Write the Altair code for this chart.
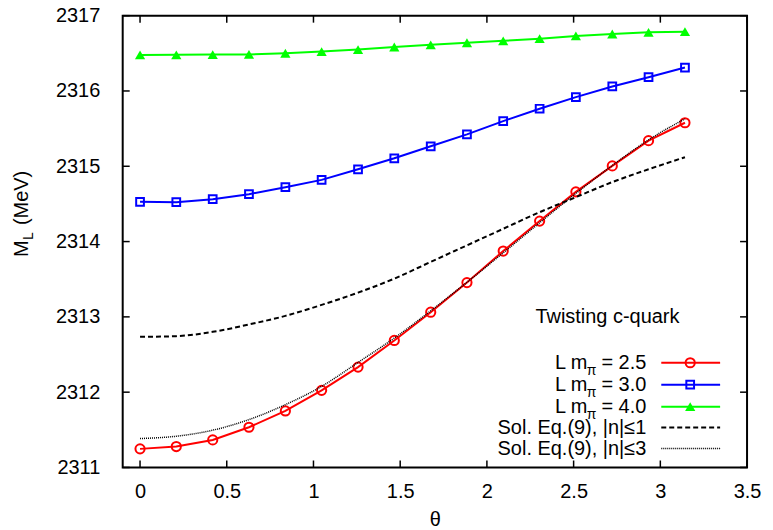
import altair as alt
import pandas as pd

# ---------------- data ----------------
theta = [0.0, 0.209, 0.419, 0.628, 0.838, 1.047, 1.257, 1.466,
         1.676, 1.885, 2.094, 2.304, 2.513, 2.723, 2.932, 3.142]

m_25 = [2311.247, 2311.278, 2311.366, 2311.534, 2311.751, 2312.024, 2312.333, 2312.687,
        2313.062, 2313.455, 2313.874, 2314.272, 2314.660, 2315.005, 2315.340, 2315.578]
m_30 = [2314.528, 2314.523, 2314.563, 2314.629, 2314.722, 2314.819, 2314.960, 2315.106,
        2315.265, 2315.424, 2315.600, 2315.764, 2315.918, 2316.060, 2316.183, 2316.311]
m_40 = [2316.479, 2316.480, 2316.483, 2316.485, 2316.501, 2316.523, 2316.550, 2316.584,
        2316.613, 2316.640, 2316.666, 2316.695, 2316.731, 2316.757, 2316.779, 2316.788]
sol_n1 = [2312.735, 2312.744, 2312.801, 2312.899, 2313.013, 2313.159, 2313.322, 2313.508,
          2313.730, 2313.950, 2314.170, 2314.390, 2314.590, 2314.790, 2314.960, 2315.120]
sol_n3 = [2311.384, 2311.415, 2311.495, 2311.636, 2311.834, 2312.077, 2312.395, 2312.718,
          2313.080, 2313.460, 2313.850, 2314.250, 2314.640, 2315.010, 2315.350, 2315.630]

x_ticks = [0, 0.5, 1, 1.5, 2, 2.5, 3, 3.5]
y_ticks = [2311, 2312, 2313, 2314, 2315, 2316, 2317]

legend_values = ["2.5", "3.0", "4.0"]
sol_labels = ["Sol. Eq.(9), |n|\u22641", "Sol. Eq.(9), |n|\u22643"]
box_title = "Twisting c-quark"

# ---------------- styling ----------------
W, H = 626, 453
FONT = "Liberation Sans"
FS = 20
RED, BLUE, GREEN = "#ff0000", "#0000ff", "#00ff00"

xs = alt.Scale(domain=[-0.1, 3.5], nice=False, zero=False)
ys = alt.Scale(domain=[2311, 2317], nice=False, zero=False)

xaxis = alt.Axis(values=x_ticks, format="~g", title="\u03b8", titleFont=FONT, titleFontSize=FS,
                 titleFontWeight="normal", titleColor="black", titlePadding=8,
                 labelFont=FONT, labelFontSize=FS, labelColor="black", labelPadding=14,
                 labelFlush=False, labelOverlap=False, ticks=False, tickSize=0,
                 domain=False, grid=False)
yaxis = alt.Axis(values=y_ticks, format="d", title=None,
                 labelFont=FONT, labelFontSize=FS, labelColor="black", labelPadding=23,
                 labelOverlap=False, ticks=False, tickSize=0, domain=False, grid=False)

X = alt.X("x:Q", scale=xs, axis=xaxis)
Y = alt.Y("y:Q", scale=ys, axis=yaxis)


def series(vals):
    return pd.DataFrame({"x": theta, "y": vals})


STYLES = [
    (RED, "circle", False, 85, 2),
    (BLUE, "square", False, 60, 2),
    (GREEN, "triangle-up", True, 105, 1),
]

layers = []

# data series with markers
for vals, (color, shape, filled, size, sw) in zip([m_25, m_30, m_40], STYLES):
    df = series(vals)
    layers.append(alt.Chart(df).mark_line(color=color, strokeWidth=2).encode(x=X, y=Y))
    layers.append(alt.Chart(df).mark_point(shape=shape, filled=filled, color=color, size=size,
                                           strokeWidth=sw, opacity=1).encode(x=X, y=Y))

# theory curves
layers.append(alt.Chart(series(sol_n1)).mark_line(color="black", strokeWidth=2, strokeDash=[5, 3],
                                                   interpolate="monotone").encode(x=X, y=Y))
layers.append(alt.Chart(series(sol_n3)).mark_line(color="black", strokeWidth=1.5, strokeDash=[1, 1],
                                                   interpolate="monotone").encode(x=X, y=Y))

# inward ticks on all four sides
tx = pd.DataFrame({"x": x_ticks})
ty = pd.DataFrame({"y": y_ticks})
TL = 7
tick_style = dict(color="black", strokeWidth=1.5)
layers.append(alt.Chart(tx).mark_rule(**tick_style).encode(x=X, y=alt.value(H), y2=alt.value(H - TL)))
layers.append(alt.Chart(tx).mark_rule(**tick_style).encode(x=X, y=alt.value(0), y2=alt.value(TL)))
layers.append(alt.Chart(ty).mark_rule(**tick_style).encode(y=Y, x=alt.value(0), x2=alt.value(TL)))
layers.append(alt.Chart(ty).mark_rule(**tick_style).encode(y=Y, x=alt.value(W), x2=alt.value(W - TL)))

# y axis title  M_L (MeV)
base_txt = alt.Chart(pd.DataFrame({"a": [0]}))
layers.append(base_txt.mark_text(text="M", font=FONT, fontSize=FS, angle=270, align="left",
                                 baseline="alphabetic", color="black")
              .encode(x=alt.value(-95), y=alt.value(242)))
layers.append(base_txt.mark_text(text="L", font=FONT, fontSize=14, angle=270, align="left",
                                 baseline="alphabetic", color="black")
              .encode(x=alt.value(-90), y=alt.value(225)))
layers.append(base_txt.mark_text(text="(MeV)", font=FONT, fontSize=FS, angle=270, align="left",
                                 baseline="alphabetic", color="black")
              .encode(x=alt.value(-95), y=alt.value(210)))

# legend box
TXT_R = 525
rows_y = [348, 370, 392, 413, 434]
LX1, LX2, MX = 540, 599, 569
layers.append(base_txt.mark_text(text=box_title, font=FONT, fontSize=FS, align="center",
                                 baseline="middle", color="black")
              .encode(x=alt.value(486), y=alt.value(302)))

for i, (color, shape, filled, size, sw) in enumerate(STYLES):
    ry = rows_y[i]
    layers.append(base_txt.mark_text(text="= " + legend_values[i], font=FONT, fontSize=FS, align="right",
                                     baseline="middle", color="black")
                  .encode(x=alt.value(TXT_R), y=alt.value(ry)))
    layers.append(base_txt.mark_text(text="\u03c0", font=FONT, fontSize=14, align="right",
                                     baseline="middle", color="black")
                  .encode(x=alt.value(TXT_R - 50), y=alt.value(ry + 8)))
    layers.append(base_txt.mark_text(text="L m", font=FONT, fontSize=FS, align="right",
                                     baseline="middle", color="black")
                  .encode(x=alt.value(TXT_R - 59), y=alt.value(ry)))
    layers.append(base_txt.mark_rule(color=color, strokeWidth=2)
                  .encode(x=alt.value(LX1), x2=alt.value(LX2), y=alt.value(ry)))
    layers.append(base_txt.mark_point(shape=shape, filled=filled, color=color, size=size,
                                      strokeWidth=sw, opacity=1)
                  .encode(x=alt.value(MX), y=alt.value(ry)))

for j, (lab, dash, sw) in enumerate([(sol_labels[0], [5, 3], 2), (sol_labels[1], [1, 1], 1.5)]):
    ry = rows_y[3 + j]
    layers.append(base_txt.mark_text(text=lab, font=FONT, fontSize=FS, align="right",
                                     baseline="middle", color="black")
                  .encode(x=alt.value(TXT_R), y=alt.value(ry)))
    layers.append(base_txt.mark_rule(color="black", strokeWidth=sw, strokeDash=dash)
                  .encode(x=alt.value(LX1), x2=alt.value(LX2), y=alt.value(ry)))

chart = alt.layer(*layers).properties(
    width=W, height=H,
    autosize=alt.AutoSizeParams(type="none"),
    padding={"left": 115, "top": 7, "right": 18, "bottom": 60},
    background="white",
).configure_view(stroke="black", strokeWidth=2)

chart.save("out.html", embed_options={"renderer": "svg", "actions": False})
